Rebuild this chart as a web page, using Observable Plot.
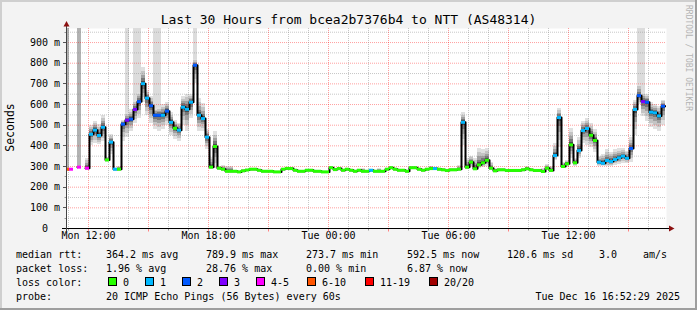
<!DOCTYPE html>
<html><head><meta charset="utf-8">
<script src="https://cdn.jsdelivr.net/npm/d3@7"></script>
<script src="https://cdn.jsdelivr.net/npm/@observablehq/plot@0.6"></script>
<style>
html,body{margin:0;padding:0;background:#f3f3f3;}
svg{display:block;}
</style>
</head><body><div id="chart"></div>
<script>
// ---------------- data ----------------
const title = "Last 30 Hours from bcea2b7376b4 to NTT (AS48314)";
const yLabel = "Seconds";
const watermark = "RRDTOOL / TOBI OETIKER";
const domainStart = Date.UTC(2025, 11, 15, 10, 54);
const domainEnd = Date.UTC(2025, 11, 16, 16, 54);
const firstStep = Date.UTC(2025, 11, 15, 10, 51);
const stepMinutes = 12;
const yMax = 968;

// median rtt (ms) per 12-minute step
const median = [
  287,287,null,297,null,292,456,476,450,490,
  332,418,287,287,505,524,529,576,614,701,
  631,594,548,548,548,568,514,485,476,587,
  577,611,790,548,532,442,297,397,292,287,
  277,277,277,274,279,283,287,287,282,277,
  277,277,274,274,287,291,290,282,277,277,
  282,282,277,277,274,274,294,285,290,282,
  287,282,277,282,277,277,282,277,277,277,
  287,294,287,282,282,277,294,294,287,282,
  287,290,290,287,284,281,284,284,287,514,
  297,321,289,308,318,330,292,279,284,284,
  281,281,281,281,284,289,284,281,281,276,
  292,281,353,537,300,313,405,318,377,474,
  484,451,426,321,316,329,324,334,342,350,
  340,387,576,643,614,611,563,560,545,592
];
// loss color class per step (index into lossLabels)
const loss = [
  5,4,null,4,null,4,1,1,1,1,
  0,1,1,0,2,3,2,3,2,1,
  1,2,2,2,1,2,1,0,1,1,
  1,1,2,1,1,1,0,0,0,0,
  0,0,0,0,0,0,0,0,0,0,
  0,0,0,0,0,0,0,0,0,0,
  0,0,0,0,0,0,0,0,0,0,
  0,0,0,0,0,0,1,0,0,0,
  0,0,0,0,0,0,0,0,0,0,
  0,0,1,0,0,0,0,0,0,1,
  0,0,0,0,0,0,0,0,0,0,
  0,0,0,0,0,0,0,0,0,0,
  0,0,1,1,0,0,0,0,1,1,
  1,0,0,1,1,1,1,1,1,1,
  1,2,1,2,3,2,1,1,1,2
];
// smoke extent: fastest and slowest ping per step (ms)
const smokeLo = [
  null,null,null,null,null,288,400,410,405,420,
  320,360,283,283,420,440,470,510,530,610,
  545,510,480,470,480,500,450,430,420,500,
  470,530,700,470,470,380,290,290,285,283,
  274,274,null,null,null,null,null,null,null,null,
  null,null,null,null,null,null,null,null,null,null,
  null,null,null,null,null,null,null,null,null,null,
  null,null,null,null,274,null,null,null,274,null,
  null,null,null,null,null,null,null,null,null,null,
  null,285,null,null,null,null,null,null,283,400,
  285,295,283,290,295,300,285,276,null,null,
  null,null,null,null,null,283,null,null,null,273,
  285,278,330,390,290,295,340,300,340,410,
  400,390,370,300,300,300,300,305,310,315,
  315,320,450,600,540,520,490,480,470,500
];
const smokeHi = [
  null,null,null,null,null,340,500,520,505,545,
  345,455,292,300,525,560,575,620,660,780,
  670,640,580,585,600,610,560,525,510,640,
  650,650,820,630,605,480,345,470,300,305,
  300,300,null,null,null,null,null,null,null,null,
  null,null,null,null,null,null,null,null,null,null,
  null,null,null,null,null,null,null,null,null,null,
  null,null,null,null,290,null,null,null,290,null,
  null,null,null,null,null,null,null,null,null,null,
  null,302,null,null,null,null,null,null,305,560,
  340,350,340,385,380,385,320,290,null,null,
  null,null,null,null,null,300,null,null,null,290,
  310,300,410,580,320,330,485,340,440,520,
  530,510,480,350,360,380,370,380,385,385,
  375,440,620,700,660,650,610,600,590,620
];
// steps where some pings ran off the top of the scale
const offScaleSteps = [15,17,18,22,23,32,143,144];
const offScaleHeavySteps = [0,3];

const lossLabels = ["0","1","2","3","4-5","6-10","11-19","20/20"];
const lossColors = ["#26ff00","#00b8ff","#0059ff","#7e00ff","#ff00ff","#ff5500","#ff0000","#a00000"];

const yTicks = [0,100,200,300,400,500,600,700,800,900];
const xTickLabels = ["Mon 12:00","Mon 18:00","Tue 00:00","Tue 06:00","Tue 12:00"];
const xTickTimes = [
  Date.UTC(2025,11,15,12), Date.UTC(2025,11,15,18), Date.UTC(2025,11,16,0),
  Date.UTC(2025,11,16,6), Date.UTC(2025,11,16,12)
];

const rttStats = [["364.2 ms avg",106],["789.9 ms max",206],["273.7 ms min",306],["592.5 ms now",407],["120.6 ms sd",507],["3.0",599],["am/s",643]];
const lossStats = [["1.96 % avg",106],["28.76 % max",206],["0.00 % min",306],["6.87 % now",407]];
const probeText = "20 ICMP Echo Pings (56 Bytes) every 60s";
const stampText = "Tue Dec 16 16:52:29 2025";

// ---------------- build ----------------
const stepMs = stepMinutes * 60000;
const rows = median.map((m, i) => ({
  i,
  t0: new Date(firstStep + i * stepMs),
  t1: new Date(firstStep + (i + 1) * stepMs),
  median: m, loss: loss[i], lo: smokeLo[i], hi: smokeHi[i]
}));
const smokeRows = rows.filter(d => d.lo != null && d.hi != null);
const tailRows = rows.filter(d => offScaleSteps.includes(d.i) || offScaleHeavySteps.includes(d.i))
  .map(d => ({...d, heavy: offScaleHeavySteps.includes(d.i)}));
const medRows = rows.filter(d => d.median != null);
const linePts = rows.map(d => ({t: d.t0, v: d.median}));
linePts.push({t: rows[rows.length - 1].t1, v: median[median.length - 1]});

const hours = d3.utcHour.range(new Date(domainStart), new Date(domainEnd));
const hoursMajor = hours.filter(h => h.getUTCHours() % 3 === 0);
const hoursMinor = hours.filter(h => h.getUTCHours() % 3 !== 0);
const yMinor = d3.range(50, yMax, 100);
const yMajor = d3.range(100, yMax, 100);

const smokeLayers = [
  {f: 1.0, fill: "#e0e0e0"},
  {f: 0.75, fill: "#c4c4c4"},
  {f: 0.5, fill: "#a0a0a0"},
  {f: 0.3, fill: "#777777"},
  {f: 0.14, fill: "#4a4a4a"}
];

const plot = Plot.plot({
  width: 697, height: 310,
  marginLeft: 66, marginRight: 31, marginTop: 28, marginBottom: 82,
  style: {fontFamily: "'DejaVu Sans Mono', monospace", fontSize: "10px", background: "#f3f3f3", color: "#000"},
  x: {type: "utc", domain: [new Date(domainStart), new Date(domainEnd)], axis: null},
  y: {domain: [0, yMax], axis: null},
  marks: [
    Plot.frame({fill: "white", stroke: null}),
    Plot.rectY(tailRows, {x1: "t0", x2: "t1", y1: d => d.hi ?? d.median, y2: yMax,
      fill: d => d.heavy ? "#b2b2b2" : "#dcdcdc", clip: true, shapeRendering: "crispEdges"}),
    ...smokeLayers.map(L => Plot.rectY(smokeRows, {
      x1: "t0", x2: "t1",
      y1: d => d.median - (d.median - d.lo) * L.f,
      y2: d => d.median + (d.hi - d.median) * L.f,
      fill: L.fill, clip: true, shapeRendering: "crispEdges"})),
    Plot.ruleY(yMinor, {stroke: "#8f8f8f", strokeOpacity: 0.5, strokeDasharray: "1,1"}),
    Plot.ruleY(yMajor, {stroke: "#ff0000", strokeOpacity: 0.38, strokeDasharray: "1,1"}),
    Plot.ruleX(hoursMinor, {stroke: "#8f8f8f", strokeOpacity: 0.5, strokeDasharray: "1,1"}),
    Plot.ruleX(hoursMajor, {stroke: "#ff0000", strokeOpacity: 0.38, strokeDasharray: "1,1"}),
    Plot.line(linePts, {x: "t", y: "v", curve: "step-after", stroke: "#000", strokeWidth: 2, clip: true}),
    Plot.ruleY(medRows, {y: "median", x1: "t0", x2: "t1", stroke: d => lossColors[d.loss], strokeWidth: 3, clip: true}),
    Plot.text(yTicks, {y: d => d, text: d => d === 0 ? "0" : `${d} m`, frameAnchor: "left", dx: -21.5, textAnchor: "middle", fill: "#000"}),
    Plot.text(xTickTimes, {x: d => new Date(d), text: (d, i) => xTickLabels[i], frameAnchor: "bottom", dy: 10, fill: "#000"})
  ]
});

const svg = d3.select(plot);
const xs = plot.scale("x"), ys = plot.scale("y");
const y0 = Math.round(ys.apply(0)) + 0.5;
const xL = 66.5;

// borders
svg.insert("g", ":first-child").call(g => {
  g.append("rect").attr("x", 0).attr("y", 0).attr("width", 697).attr("height", 2).attr("fill", "#cfcfcf");
  g.append("rect").attr("x", 0).attr("y", 0).attr("width", 2).attr("height", 310).attr("fill", "#cfcfcf");
  g.append("rect").attr("x", 695).attr("y", 0).attr("width", 2).attr("height", 310).attr("fill", "#9e9e9e");
  g.append("rect").attr("x", 0).attr("y", 308).attr("width", 697).attr("height", 2).attr("fill", "#9e9e9e");
});

const g = svg.append("g").attr("font-family", "'DejaVu Sans Mono', monospace").attr("fill", "#000")
  .attr("text-anchor", "start");
// axis ticks
yTicks.forEach(v => {
  const y = Math.round(ys.apply(v)) + 0.5;
  g.append("line").attr("x1", 63).attr("x2", 66).attr("y1", y).attr("y2", y).attr("stroke", "#555");
});
yMinor.forEach(v => {
  const y = Math.round(ys.apply(v)) + 0.5;
  g.append("line").attr("x1", 64.5).attr("x2", 66).attr("y1", y).attr("y2", y).attr("stroke", "#999");
});
hours.forEach(h => {
  const x = Math.round(xs.apply(h)) + 0.5;
  const major = h.getUTCHours() % 3 === 0;
  g.append("line").attr("x1", x).attr("x2", x).attr("y1", y0).attr("y2", y0 + (major ? 3 : 2))
    .attr("stroke", major ? "#ff8080" : "#999");
});
// axes
g.append("line").attr("x1", 62).attr("x2", 670).attr("y1", y0).attr("y2", y0).attr("stroke", "#000");
g.append("line").attr("x1", xL).attr("x2", xL).attr("y1", y0 + 3).attr("y2", 25).attr("stroke", "#444");
g.append("path").attr("d", `M669,${y0 - 3}L674.5,${y0}L669,${y0 + 3}Z`).attr("fill", "#8b1010");
g.append("path").attr("d", `M${xL - 3},26.5L${xL},21L${xL + 3},26.5Z`).attr("fill", "#8b1010");

// titles
g.append("text").attr("x", 348.5).attr("y", 23.5).attr("text-anchor", "middle").attr("font-size", 13).text(title);
g.append("text").attr("transform", "translate(10,127.5) rotate(-90)").attr("text-anchor", "middle")
  .attr("dominant-baseline", "central").attr("font-size", 11.5).text(yLabel);
g.append("text").attr("transform", "translate(688,5) rotate(90)").attr("text-anchor", "start")
  .attr("dominant-baseline", "central").attr("font-size", 8).attr("fill", "#b4b4b4").text(watermark);

// legend
const fs = 10;
const T = (x, y, t, anchor = "start") => g.append("text").attr("x", x).attr("y", y)
  .attr("font-size", fs).attr("text-anchor", anchor).text(t);
T(16, 258, "median rtt:");
rttStats.forEach(([t, x]) => T(x, 258, t));
T(16, 272, "packet loss:");
lossStats.forEach(([t, x]) => T(x, 272, t));
T(16, 286, "loss color:");
const swX = [108, 145, 182, 219, 256, 307, 365, 429];
lossLabels.forEach((lab, i) => {
  g.append("rect").attr("x", swX[i] + 0.5).attr("y", 277.5).attr("width", 8).attr("height", 8)
    .attr("fill", lossColors[i]).attr("stroke", "#000");
  T(swX[i] + 15, 286, lab);
});
T(16, 300, "probe:");
T(106, 300, probeText);
T(680, 300, stampText, "end");

document.getElementById("chart").appendChild(plot);
</script>
</body></html>
